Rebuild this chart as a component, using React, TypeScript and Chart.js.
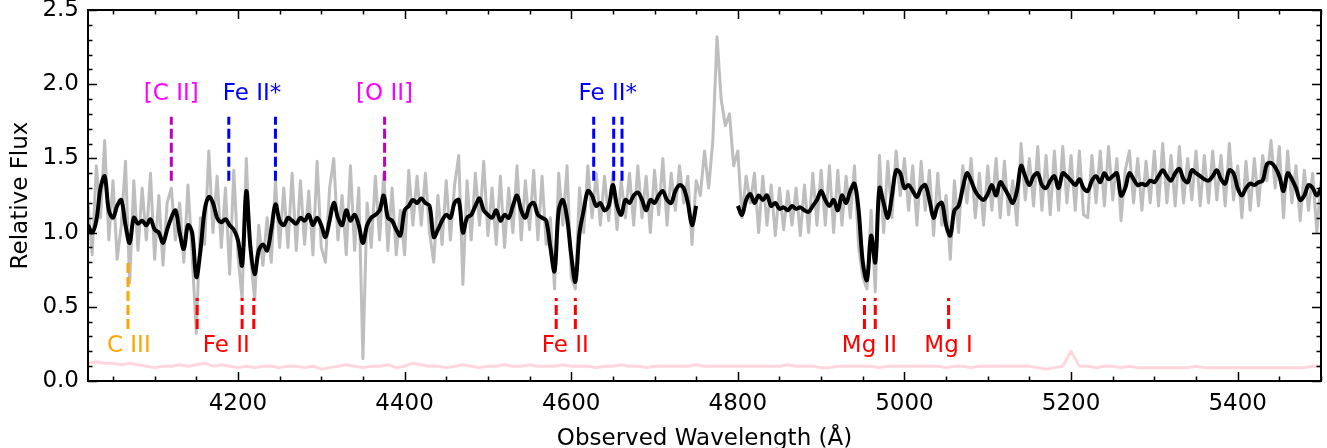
import React, { useEffect, useRef } from "react";
import { Chart, registerables } from "chart.js";

Chart.register(...registerables);

// Wavelength grid of the spectrum (Å)
const WAVE_START = 4020;
const WAVE_STEP = 5;

// Observed (unsmoothed) relative flux, one value per WAVE_STEP from WAVE_START
const FLUX_RAW = [
  1.20, 0.85, 1.45, 1.10, 1.62, 0.95, 1.35, 0.82, 1.05, 1.48,
  0.66, 1.35, 0.88, 1.30, 0.95, 1.40, 0.82, 1.25, 0.78, 1.20,
  1.30, 0.95, 1.20, 0.80, 1.32, 0.85, 0.32, 1.10, 0.92, 1.55,
  1.00, 1.38, 0.90, 1.30, 0.72, 1.42, 0.85, 0.55, 1.50, 0.85,
  0.55, 1.05, 0.78, 1.10, 0.80, 1.35, 0.90, 1.30, 0.90, 1.40,
  0.88, 1.35, 0.92, 1.28, 0.85, 1.48, 0.90, 0.80, 1.30, 1.50,
  0.95, 1.25, 0.85, 1.45, 0.88, 1.30, 0.15, 1.20, 0.90, 1.38,
  0.95, 1.40, 0.88, 1.30, 0.85, 1.15, 0.85, 1.42, 1.05, 1.38,
  1.05, 1.40, 1.00, 0.80, 1.25, 0.92, 1.35, 0.95, 1.32, 1.52,
  0.65, 1.35, 0.95, 1.40, 1.05, 1.48, 0.98, 1.30, 0.92, 1.38,
  0.90, 1.30, 1.00, 1.45, 0.95, 1.35, 1.02, 1.42, 0.95, 1.38,
  0.92, 1.10, 0.62, 1.40, 1.05, 1.45, 0.70, 0.62, 1.30, 1.00,
  1.45, 1.10, 1.40, 1.05, 1.38, 1.08, 1.40, 1.02, 1.35, 1.10,
  1.40, 1.05, 1.45, 1.10, 1.38, 1.00, 1.42, 1.12, 1.50, 1.05,
  1.40, 1.15, 1.45, 1.20, 1.38, 0.92, 1.35, 1.25, 1.55, 1.30,
  1.62, 2.32, 1.90, 1.72, 1.80, 1.45, 1.55, 1.10, 1.38, 1.20,
  1.40, 1.00, 1.38, 1.05, 1.32, 0.98, 1.30, 1.02, 1.28, 1.05,
  1.30, 0.98, 1.32, 1.00, 1.40, 1.05, 1.42, 1.05, 1.45, 1.00,
  1.42, 1.05, 1.38, 1.10, 1.45, 0.90, 0.70, 0.62, 1.15, 0.60,
  1.52, 1.00, 1.48, 1.10, 1.55, 1.25, 1.50, 1.15, 1.45, 1.05,
  1.48, 1.15, 1.42, 0.98, 1.40, 1.05, 1.25, 0.82, 1.35, 1.00,
  1.45, 1.20, 1.50, 1.10, 1.40, 1.05, 1.45, 1.15, 1.50, 1.10,
  1.48, 1.12, 1.35, 1.05, 1.60, 1.22, 1.50, 1.18, 1.58, 1.15,
  1.52, 1.12, 1.55, 1.15, 1.58, 1.20, 1.52, 1.15, 1.55, 1.12,
  1.10, 1.52, 1.20, 1.55, 1.18, 1.58, 1.22, 1.50, 1.08, 1.42,
  1.55, 1.20, 1.50, 1.15, 1.48, 1.20, 1.55, 1.18, 1.60, 1.20,
  1.52, 1.18, 1.58, 1.20, 1.50, 1.22, 1.55, 1.18, 1.52, 1.20,
  1.55, 1.22, 1.52, 1.18, 1.60, 1.22, 1.45, 1.10, 1.48, 1.15,
  1.50, 1.18, 1.52, 1.35, 1.62, 1.30, 1.58, 1.10, 1.55, 1.20,
  1.45, 1.08, 1.42, 1.15, 1.40, 1.00, 1.35,
];

// Smoothed relative flux on the same grid (null = masked region)
const FLUX_SMOOTH = [
  1.05, 1.00, 1.08, 1.30, 1.38, 1.15, 1.10, 1.18, 1.22, 1.05,
  0.93, 1.10, 1.06, 1.08, 1.05, 1.09, 1.02, 1.00, 0.93, 1.02,
  1.10, 1.15, 1.00, 0.89, 1.05, 1.00, 0.70, 0.88, 1.15, 1.24,
  1.20, 1.10, 1.07, 1.09, 1.05, 1.02, 0.95, 0.78, 1.28, 0.90,
  0.72, 0.88, 0.92, 0.88, 1.02, 1.19, 1.08, 1.05, 1.10, 1.08,
  1.06, 1.10, 1.08, 1.12, 1.05, 1.10, 1.05, 0.97, 1.08, 1.20,
  1.10, 1.05, 1.15, 1.08, 1.12, 1.05, 0.93, 1.05, 1.10, 1.12,
  1.15, 1.25, 1.10, 1.08, 1.02, 0.98, 1.15, 1.18, 1.22, 1.20,
  1.23, 1.20, 1.18, 0.97, 1.02, 1.08, 1.12, 1.10, 1.20, 1.22,
  1.00, 1.10, 1.12, 1.18, 1.23, 1.15, 1.12, 1.10, 1.15, 1.08,
  1.12, 1.10, 1.18, 1.25, 1.15, 1.10, 1.18, 1.20, 1.12, 1.10,
  1.08, 0.90, 0.74, 1.15, 1.22, 1.10, 0.85, 0.67, 1.00, 1.15,
  1.28, 1.25, 1.18, 1.20, 1.15, 1.18, 1.32, 1.18, 1.12, 1.22,
  1.20, 1.25, 1.27, 1.22, 1.15, 1.22, 1.20, 1.25, 1.28, 1.22,
  1.20, 1.28, 1.32, 1.30, 1.20, 1.05, 1.18, null, null, null,
  null, null, null, null, null, null, 1.18, 1.12, 1.22, 1.26,
  1.20, 1.25, 1.22, 1.25, 1.18, 1.20, 1.16, 1.17, 1.15, 1.18,
  1.16, 1.17, 1.15, 1.14, 1.18, 1.22, 1.28, 1.22, 1.18, 1.22,
  1.15, 1.25, 1.20, 1.28, 1.33, 1.15, 0.80, 0.68, 0.98, 0.80,
  1.30, 1.20, 1.10, 1.25, 1.42, 1.40, 1.30, 1.32, 1.28, 1.24,
  1.30, 1.32, 1.22, 1.10, 1.18, 1.20, 1.05, 0.98, 1.15, 1.18,
  1.30, 1.40, 1.35, 1.28, 1.24, 1.22, 1.26, 1.32, 1.25, 1.34,
  1.30, 1.25, 1.20, 1.28, 1.45, 1.38, 1.32, 1.38, 1.40, 1.32,
  1.30, 1.35, 1.38, 1.30, 1.40, 1.38, 1.35, 1.32, 1.36, 1.30,
  1.28, 1.35, 1.38, 1.34, 1.40, 1.36, 1.38, 1.40, 1.25, 1.30,
  1.40, 1.36, 1.32, 1.33, 1.32, 1.35, 1.34, 1.38, 1.42, 1.38,
  1.35, 1.40, 1.43, 1.36, 1.34, 1.42, 1.40, 1.38, 1.36, 1.35,
  1.38, 1.42, 1.36, 1.33, 1.42, 1.40, 1.30, 1.25, 1.30, 1.33,
  1.32, 1.34, 1.35, 1.46, 1.47, 1.44, 1.38, 1.28, 1.40, 1.36,
  1.30, 1.22, 1.25, 1.32, 1.30, 1.25, 1.30,
];

// Flux uncertainty on a coarser grid
const ERR_START = 4020;
const ERR_STEP = 10;
const FLUX_ERR = [
  0.12, 0.13, 0.12, 0.12, 0.11, 0.12, 0.11, 0.10, 0.09, 0.10,
  0.10, 0.11, 0.10, 0.11, 0.12, 0.10, 0.11, 0.10, 0.09, 0.10,
  0.09, 0.10, 0.10, 0.09, 0.10, 0.10, 0.09, 0.10, 0.08, 0.09,
  0.10, 0.11, 0.10, 0.09, 0.10, 0.10, 0.11, 0.09, 0.10, 0.12,
  0.11, 0.10, 0.10, 0.09, 0.10, 0.11, 0.10, 0.09, 0.10, 0.10,
  0.11, 0.10, 0.10, 0.11, 0.10, 0.10, 0.10, 0.11, 0.10, 0.10,
  0.10, 0.09, 0.10, 0.10, 0.11, 0.10, 0.10, 0.09, 0.10, 0.10,
  0.10, 0.10, 0.10, 0.11, 0.10, 0.10, 0.10, 0.10, 0.10, 0.10,
  0.10, 0.10, 0.10, 0.10, 0.11, 0.10, 0.10, 0.10, 0.09, 0.09,
  0.10, 0.10, 0.10, 0.10, 0.10, 0.09, 0.10, 0.10, 0.10, 0.10,
  0.10, 0.10, 0.10, 0.09, 0.10, 0.10, 0.09, 0.10, 0.10, 0.10,
  0.10, 0.10, 0.10, 0.10, 0.09, 0.08, 0.09, 0.10, 0.20, 0.10,
  0.10, 0.09, 0.10, 0.10, 0.09, 0.10, 0.09, 0.09, 0.09, 0.09,
  0.09, 0.09, 0.09, 0.10, 0.09, 0.09, 0.09, 0.09, 0.09, 0.09,
  0.09, 0.09, 0.09, 0.09, 0.09, 0.09, 0.09, 0.10, 0.10,
];

// Absorption / emission line identifications (wavelengths in Å)
const CIII_WAVES = [4068];
const FEII_WAVES = [4151, 4205, 4219, 4582, 4605];
const MGII_WAVES = [4952, 4965];
const MGI_WAVES = [5053];
const CII_WAVES = [4120];
const OII_WAVES = [4376];
const FEII_STAR_WAVES = [4189, 4245, 4627, 4651, 4661];

// Line-marker flux extents
const LOW_MARK = [0.35, 0.56];
const CIII_MARK = [0.35, 0.8];
const HIGH_MARK = [1.35, 1.78];

// Label texts and their anchor (wavelength, flux)
const LABEL_TEXTS = ["C III", "Fe II", "Fe II", "Mg II", "Mg I", "[C II]", "Fe II*", "[O II]", "Fe II*"];
const LABEL_WAVES = [4069, 4186, 4593, 4958, 5053, 4120, 4217, 4376, 4644];
const LABEL_FLUX = [0.195, 0.195, 0.195, 0.195, 0.195, 1.893, 1.893, 1.893, 1.893];
const LABEL_COLORS = ["#ffa500", "#ff0000", "#ff0000", "#ff0000", "#ff0000", "#ff00ff", "#0000ff", "#ff00ff", "#0000ff"];

// Axes
const X_MIN = 4020;
const X_MAX = 5500;
const Y_MIN = 0;
const Y_MAX = 2.5;
const X_TICKS = [4200, 4400, 4600, 4800, 5000, 5200, 5400];
const Y_TICKS = [0, 0.5, 1.0, 1.5, 2.0, 2.5];
const X_MINOR_STEP = 50;
const Y_MINOR_STEP = 0.1;

const FONT = "DejaVu Sans";
const FONT_SIZE = 23;

export default function App() {
  const ref = useRef<HTMLCanvasElement | null>(null);

  useEffect(() => {
    document.body.style.margin = "0";
    const canvas = ref.current;
    if (!canvas) return;

    const raw = FLUX_RAW.map((y, i) => ({ x: WAVE_START + i * WAVE_STEP, y }));
    const smooth = FLUX_SMOOTH.map((y, i) => ({ x: WAVE_START + i * WAVE_STEP, y }));
    const err = FLUX_ERR.map((y, i) => ({ x: ERR_START + i * ERR_STEP, y }));

    const markerSets: any[] = [];
    const addMarkers = (waves: number[], ext: number[], color: string) => {
      waves.forEach((w) => {
        markerSets.push({
          type: "line",
          data: [
            { x: w, y: ext[0] },
            { x: w, y: ext[1] },
          ],
          borderColor: color,
          borderWidth: 3,
          borderDash: [10, 4],
          pointRadius: 0,
          tension: 0,
          order: 0,
        });
      });
    };
    addMarkers(CIII_WAVES, CIII_MARK, "#ffa500");
    addMarkers(FEII_WAVES, LOW_MARK, "#ff0000");
    addMarkers(MGII_WAVES, LOW_MARK, "#ff0000");
    addMarkers(MGI_WAVES, LOW_MARK, "#ff0000");
    addMarkers(CII_WAVES, HIGH_MARK, "#bf00bf");
    addMarkers(OII_WAVES, HIGH_MARK, "#bf00bf");
    addMarkers(FEII_STAR_WAVES, HIGH_MARK, "#0000ff");

    const framePlugin = {
      id: "frame",
      afterDatasetsDraw(chart: any) {
        const { ctx, chartArea, scales } = chart;
        const xs = scales.x;
        const ys = scales.y;
        ctx.save();
        // line labels
        ctx.font = `${FONT_SIZE}px "${FONT}"`;
        ctx.textAlign = "center";
        ctx.textBaseline = "alphabetic";
        LABEL_TEXTS.forEach((t, i) => {
          ctx.fillStyle = LABEL_COLORS[i];
          ctx.fillText(t, xs.getPixelForValue(LABEL_WAVES[i]), ys.getPixelForValue(LABEL_FLUX[i]));
        });
        // inward ticks on all four sides
        ctx.strokeStyle = "#000";
        ctx.lineWidth = 1.5;
        const { left, right, top, bottom } = chartArea;
        const drawX = (v: number, len: number) => {
          const px = Math.round(xs.getPixelForValue(v)) + 0.5;
          ctx.beginPath();
          ctx.moveTo(px, bottom);
          ctx.lineTo(px, bottom - len);
          ctx.moveTo(px, top);
          ctx.lineTo(px, top + len);
          ctx.stroke();
        };
        const drawY = (v: number, len: number) => {
          const py = Math.round(ys.getPixelForValue(v)) + 0.5;
          ctx.beginPath();
          ctx.moveTo(left, py);
          ctx.lineTo(left + len, py);
          ctx.moveTo(right, py);
          ctx.lineTo(right - len, py);
          ctx.stroke();
        };
        const firstMinorX = Math.ceil(X_MIN / X_MINOR_STEP) * X_MINOR_STEP;
        for (let v = firstMinorX; v <= X_MAX; v += X_MINOR_STEP) {
          if (!X_TICKS.includes(v)) drawX(v, 4.5);
        }
        X_TICKS.forEach((v) => drawX(v, 9));
        for (let k = 1; k < Math.round((Y_MAX - Y_MIN) / Y_MINOR_STEP); k++) {
          if (k % 5 !== 0) drawY(Y_MIN + k * Y_MINOR_STEP, 4.5);
        }
        Y_TICKS.forEach((v) => drawY(v, 9));
        // frame
        ctx.lineWidth = 2;
        ctx.strokeRect(left, top, right - left, bottom - top);
        ctx.restore();
      },
    };

    const chart = new Chart(canvas, {
      type: "line",
      data: {
        datasets: [
          ...markerSets,
          {
            data: smooth,
            borderColor: "#000000",
            borderWidth: 4,
            pointRadius: 0,
            spanGaps: false,
            tension: 0.35,
            order: 1,
          },
          {
            data: raw,
            borderColor: "#bebebe",
            borderWidth: 3,
            pointRadius: 0,
            tension: 0,
            order: 2,
          },
          {
            data: err,
            borderColor: "rgba(255,192,203,0.65)",
            borderWidth: 3,
            pointRadius: 0,
            tension: 0,
            order: 3,
          },
        ],
      },
      options: {
        responsive: false,
        animation: false,
        events: [],
        layout: { padding: { top: 10, right: 6, left: 0, bottom: 0 } },
        plugins: { legend: { display: false }, tooltip: { enabled: false } },
        elements: { line: { borderJoinStyle: "round", borderCapStyle: "butt" } },
        scales: {
          x: {
            type: "linear",
            min: X_MIN,
            max: X_MAX,
            grid: { display: false, drawTicks: false },
            border: { display: false },
            afterBuildTicks: (s: any) => {
              s.ticks = X_TICKS.map((v) => ({ value: v }));
            },
            afterFit: (s: any) => {
              s.height = 67;
              s.paddingLeft = 0;
              s.paddingRight = 0;
            },
            ticks: {
              autoSkip: false,
              maxRotation: 0,
              padding: 9,
              color: "#000",
              font: { family: FONT, size: FONT_SIZE },
              callback: (v: any) => String(v),
            },
            title: {
              display: true,
              text: "Observed Wavelength (Å)",
              color: "#000",
              font: { family: FONT, size: FONT_SIZE },
              padding: { top: 0, bottom: -5 },
            },
          },
          y: {
            type: "linear",
            min: Y_MIN,
            max: Y_MAX,
            grid: { display: false, drawTicks: false },
            border: { display: false },
            afterBuildTicks: (s: any) => {
              s.ticks = Y_TICKS.map((v) => ({ value: v }));
            },
            afterFit: (s: any) => {
              s.width = 88;
              s.paddingTop = 0;
              s.paddingBottom = 0;
            },
            ticks: {
              padding: 9,
              color: "#000",
              font: { family: FONT, size: FONT_SIZE },
              callback: (v: any) => Number(v).toFixed(1),
            },
            title: {
              display: true,
              text: "Relative Flux",
              color: "#000",
              font: { family: FONT, size: FONT_SIZE },
              padding: { top: 7, bottom: 0 },
            },
          },
        },
      },
      plugins: [framePlugin],
    });

    return () => chart.destroy();
  }, []);

  return (
    <div style={{ position: "fixed", left: 0, top: 0, width: 1327, height: 448, background: "#fff" }}>
      <canvas ref={ref} width={1327} height={448} style={{ width: 1327, height: 448 }} />
    </div>
  );
}
